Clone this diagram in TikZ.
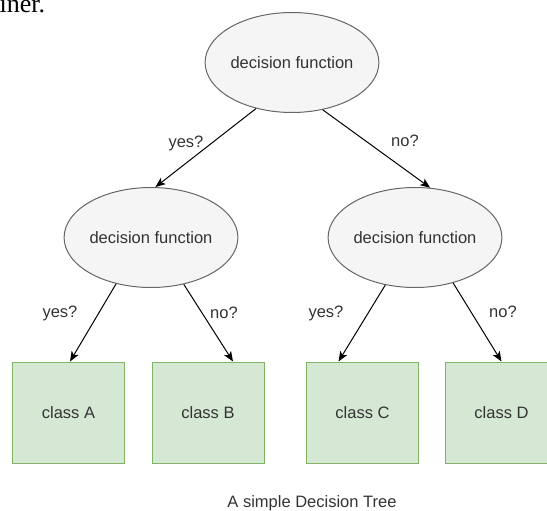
\documentclass[tikz,border=0pt]{standalone}
\usepackage{fontspec}
\setmainfont{Liberation Sans}
\newfontfamily\seriffrag{Liberation Serif}
\usetikzlibrary{shapes.geometric,arrows.meta,calc}
\definecolor{ellfill}{HTML}{F5F5F5}
\definecolor{elldraw}{HTML}{666666}
\definecolor{boxfill}{HTML}{D5E8D4}
\definecolor{boxdraw}{HTML}{82B366}
\definecolor{txt}{HTML}{333333}
\tikzset{
  decnode/.style={ellipse, draw=elldraw, fill=ellfill, line width=1pt,
    minimum width=168pt, minimum height=100pt, inner sep=0pt,
    text=txt, font=\fontsize{16.5}{20}\selectfont},
  classbox/.style={rectangle, draw=boxdraw, fill=boxfill, line width=1pt,
    minimum width=112pt, minimum height=101pt, inner sep=0pt,
    text=txt, font=\fontsize{16.5}{20}\selectfont},
  lbl/.style={text=txt, font=\fontsize{16.5}{20}\selectfont, inner sep=0pt},
  conn/.style={line width=1pt, -{Stealth[length=10pt,width=8pt,inset=2.5pt]}}
}
\begin{document}
\begin{tikzpicture}[x=1pt,y=-1pt]
\useasboundingbox (0,0) rectangle (547,511);
\clip (0,0) rectangle (547,511);
\node[anchor=base west, inner sep=0pt, font=\seriffrag\fontsize{26}{30}\selectfont] (frag) at (-0.5,12.5) {iner.};
\node[decnode] (top) at (292,62.5) {decision function};
\node[decnode] (L) at (151,237.5) {decision function};
\node[decnode] (R) at (415,237.5) {decision function};
\node[classbox] (A) at (68.5,412.5) {class A};
\node[classbox] (B) at (208,412.5) {class B};
\node[classbox] (C) at (362.5,412.5) {class C};
\node[classbox] (D) at (501.5,412.5) {class D};
\draw[conn] (top.232) -- (L.85);
\draw[conn] (top.-57) -- (R.73);
\draw[conn] (L.233) -- ($(A.north)+(1.5,0)$);
\draw[conn] (L.-55) -- ($(B.north)+(25,0)$);
\draw[conn] (R.238) -- ($(C.north)+(-24,0)$);
\draw[conn] (R.-50) -- (D.north);
\node[lbl] (l1) at (186,143) {yes?};
\node[lbl] (l2) at (405,141) {no?};
\node[lbl] (l3) at (60,313) {yes?};
\node[lbl] (l4) at (224,313) {no?};
\node[lbl] (l5) at (326,313) {yes?};
\node[lbl] (l6) at (503,312) {no?};
\node[lbl, anchor=base] (cap) at (312,507) {A simple Decision Tree};
\end{tikzpicture}
\end{document}
